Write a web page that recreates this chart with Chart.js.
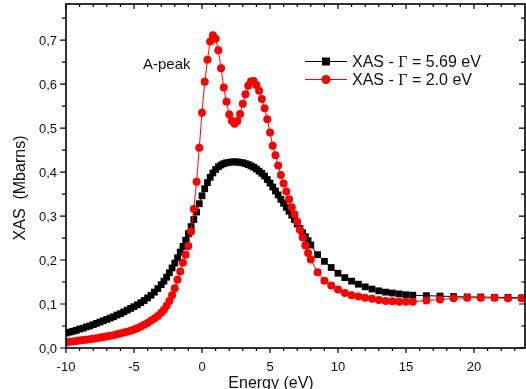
<!DOCTYPE html>
<html lang="en">
<head>
  <meta charset="UTF-8" />
  <title>XAS spectrum</title>
  <script src="https://cdn.jsdelivr.net/npm/chart.js"></script>
  <style>
    * { margin: 0; padding: 0; box-sizing: border-box; }
    body { background: #fff; width: 526px; height: 389px; overflow: hidden; }
    canvas { display: block; }
  </style>
</head>
<body>
  <canvas id="xas" width="526" height="389"></canvas>

  <script>
    // energy grid (eV), shared by both spectra
    const energy = [
      -10, -9.75, -9.5, -9.25, -9, -8.75, -8.5, -8.25, -8, -7.75, -7.5, -7.25, -7, -6.75,
      -6.5, -6.25, -6, -5.75, -5.5, -5.25, -5, -4.75, -4.5, -4.25, -4, -3.75, -3.5, -3.25,
      -3, -2.8, -2.6, -2.4, -2.2, -2, -1.8, -1.6, -1.4, -1.2, -1, -0.8, -0.6, -0.4, -0.2, 0,
      0.2, 0.4, 0.6, 0.8, 1, 1.2, 1.4, 1.6, 1.8, 2, 2.2, 2.4, 2.6, 2.8, 3, 3.2, 3.4, 3.6, 3.8,
      4, 4.2, 4.4, 4.6, 4.8, 5, 5.2, 5.4, 5.6, 5.8, 6, 6.2, 6.4, 6.6, 6.8, 7, 7.2, 7.4, 7.6, 7.8, 8,
      8.5, 9, 9.5, 10, 10.5, 11, 11.5, 12, 12.5, 13, 13.5, 14, 14.5, 15, 15.5,
      16.5, 17.5, 18.5, 19.5, 20.5, 21.5, 22.5, 23.5
    ];

    // XAS, Gamma = 5.69 eV (Mbarns)
    const xasWide = [
      0.034, 0.036, 0.038, 0.040, 0.043, 0.045, 0.048, 0.050, 0.053, 0.056, 0.059, 0.062, 0.065, 0.068,
      0.071, 0.075, 0.078, 0.082, 0.086, 0.090, 0.094, 0.098, 0.103, 0.108, 0.114, 0.120, 0.127, 0.135,
      0.144, 0.152, 0.161, 0.171, 0.182, 0.193, 0.205, 0.218, 0.231, 0.245, 0.260, 0.276, 0.292, 0.309, 0.328, 0.346,
      0.362, 0.376, 0.388, 0.398, 0.406, 0.412, 0.416, 0.419, 0.421, 0.422, 0.423, 0.423, 0.423, 0.422, 0.421, 0.419, 0.417, 0.414, 0.411,
      0.407, 0.402, 0.397, 0.391, 0.383, 0.375, 0.366, 0.357, 0.348, 0.338, 0.329, 0.320, 0.311, 0.302, 0.292, 0.282, 0.272, 0.262, 0.253, 0.244, 0.234,
      0.212, 0.197, 0.183, 0.170, 0.160, 0.152, 0.145, 0.139, 0.134, 0.130, 0.127, 0.125, 0.123, 0.121, 0.120,
      0.119, 0.118, 0.117, 0.116, 0.116, 0.115, 0.115, 0.114
    ];

    // XAS, Gamma = 2.0 eV (Mbarns)
    const xasNarrow = [
      0.013, 0.014, 0.015, 0.016, 0.017, 0.018, 0.019, 0.020, 0.021, 0.022, 0.024, 0.025, 0.026, 0.028,
      0.029, 0.031, 0.033, 0.035, 0.037, 0.039, 0.042, 0.045, 0.049, 0.053, 0.057, 0.062, 0.067, 0.073,
      0.080, 0.087, 0.096, 0.107, 0.120, 0.136, 0.155, 0.174, 0.194, 0.212, 0.232, 0.265, 0.316, 0.378, 0.455, 0.535,
      0.605, 0.655, 0.697, 0.711, 0.703, 0.677, 0.636, 0.592, 0.560, 0.531, 0.516, 0.510, 0.516, 0.532, 0.555, 0.577, 0.596, 0.606, 0.607,
      0.598, 0.585, 0.566, 0.545, 0.520, 0.490, 0.460, 0.438, 0.415, 0.393, 0.374, 0.356, 0.338, 0.320, 0.304, 0.287, 0.268, 0.251, 0.233, 0.216, 0.201,
      0.172, 0.153, 0.142, 0.133, 0.125, 0.120, 0.117, 0.114, 0.112, 0.109, 0.107, 0.106, 0.105, 0.105, 0.105,
      0.108, 0.110, 0.113, 0.114, 0.114, 0.114, 0.113, 0.113
    ];

    const xTicks = [-10, -5, 0, 5, 10, 15, 20];
    const yTicks = [0, 0.1, 0.2, 0.3, 0.4, 0.5, 0.6, 0.7];

    const SANS = '"Liberation Sans", Arial, sans-serif';
    const SERIF = '"Liberation Serif", "Times New Roman", serif';

    const toPoints = ys => energy.map((e, i) => ({ x: e, y: ys[i] }));

    const noPad = s => { s.paddingTop = 0; s.paddingBottom = 0; s.paddingLeft = 0; s.paddingRight = 0; };

    // frame, in/out ticks, tick labels, titles, annotation and legend
    const decorations = {
      id: 'decorations',
      afterDraw(chart) {
        const { ctx, chartArea: a, scales: { x, y } } = chart;
        ctx.save();
        ctx.strokeStyle = '#000';
        ctx.lineWidth = 1.6;
        ctx.strokeRect(a.left, a.top, a.right - a.left, a.bottom - a.top);

        ctx.lineWidth = 1.2;
        ctx.beginPath();
        for (let v = -10; v <= 23; v++) {
          const px = x.getPixelForValue(v);
          const len = v % 5 === 0 ? 5 : 3;
          ctx.moveTo(px, a.bottom); ctx.lineTo(px, a.bottom + len);
          ctx.moveTo(px, a.top); ctx.lineTo(px, a.top + len);
        }
        for (let k = 0; k <= 15; k++) {
          const py = y.getPixelForValue(k * 0.05);
          const len = k % 2 === 0 ? 6 : 4;
          ctx.moveTo(a.left, py); ctx.lineTo(a.left - len, py);
          ctx.moveTo(a.right, py); ctx.lineTo(a.right - len, py);
        }
        ctx.stroke();

        // tick labels
        ctx.fillStyle = '#111';
        ctx.font = '13px ' + SANS;
        ctx.textBaseline = 'alphabetic';
        ctx.textAlign = 'center';
        xTicks.forEach(v => ctx.fillText(String(v), x.getPixelForValue(v), a.bottom + 22.5));
        ctx.textAlign = 'right';
        yTicks.forEach(v => ctx.fillText(v.toFixed(1).replace('.', ','), a.left - 9, y.getPixelForValue(v) + 4.5));

        // axis titles
        ctx.font = '16px ' + SANS;
        ctx.textAlign = 'center';
        ctx.fillText('Energy (eV)', 271, 388);

        ctx.save();
        ctx.translate(25, 188);
        ctx.rotate(-Math.PI / 2);
        ctx.fillText('XAS  (Mbarns)', 0, 0);
        ctx.restore();

        ctx.textAlign = 'left';
        ctx.font = '15px ' + SANS;
        ctx.fillText('A-peak', 143, 69);

        // legend
        const rows = [
          { color: '#000', style: 'rect', value: '5.69', yy: 61 },
          { color: '#ff0000', style: 'circle', value: '2.0', yy: 79 }
        ];
        ctx.lineWidth = 1;
        rows.forEach(r => {
          ctx.strokeStyle = r.color;
          ctx.fillStyle = r.color;
          ctx.beginPath();
          ctx.moveTo(305, r.yy + 0.5); ctx.lineTo(347, r.yy + 0.5);
          ctx.stroke();
          if (r.style === 'rect') {
            ctx.fillRect(322, r.yy - 3.5, 8, 8);
          } else {
            ctx.beginPath();
            ctx.arc(326, r.yy + 0.5, 4.5, 0, Math.PI * 2);
            ctx.fill();
          }
          ctx.fillStyle = '#111';
          let tx = 352;
          const by = r.yy + 6;
          ctx.font = '16px ' + SANS;
          ctx.fillText('XAS - ', tx, by);
          tx += ctx.measureText('XAS - ').width;
          ctx.font = '16px ' + SERIF;
          ctx.fillText('\u0393', tx, by);
          tx += ctx.measureText('\u0393').width;
          ctx.font = '16px ' + SANS;
          ctx.fillText(' = ' + r.value + ' eV', tx, by);
        });
        ctx.restore();
      }
    };

    new Chart(document.getElementById('xas'), {
      type: 'scatter',
      data: {
        datasets: [
          {
            label: 'XAS - \u0393 = 5.69 eV',
            data: toPoints(xasWide),
            showLine: true,
            borderColor: '#000',
            borderWidth: 1,
            backgroundColor: '#000',
            pointStyle: 'rect',
            pointRadius: 4.8,
            pointBorderWidth: 0,
            clip: 0,
            order: 2
          },
          {
            label: 'XAS - \u0393 = 2.0 eV',
            data: toPoints(xasNarrow),
            showLine: true,
            borderColor: '#ff0000',
            borderWidth: 1,
            backgroundColor: '#ff0000',
            pointStyle: 'circle',
            pointRadius: 4,
            pointBorderWidth: 0,
            clip: 0,
            order: 1
          }
        ]
      },
      options: {
        responsive: false,
        animation: false,
        layout: { autoPadding: false, padding: { top: 4, right: 1, left: 0, bottom: 0 } },
        plugins: {
          legend: { display: false },
          tooltip: { enabled: false }
        },
        scales: {
          x: {
            type: 'linear',
            min: -10,
            max: 23.75,
            grid: { display: false, drawTicks: false },
            border: { display: false },
            ticks: { display: false },
            afterFit: s => { s.height = 41; noPad(s); }
          },
          y: {
            type: 'linear',
            min: 0,
            max: 0.782,
            grid: { display: false, drawTicks: false },
            border: { display: false },
            ticks: { display: false },
            afterFit: s => { s.width = 66; noPad(s); }
          }
        }
      },
      plugins: [decorations]
    });
  </script>
</body>
</html>
